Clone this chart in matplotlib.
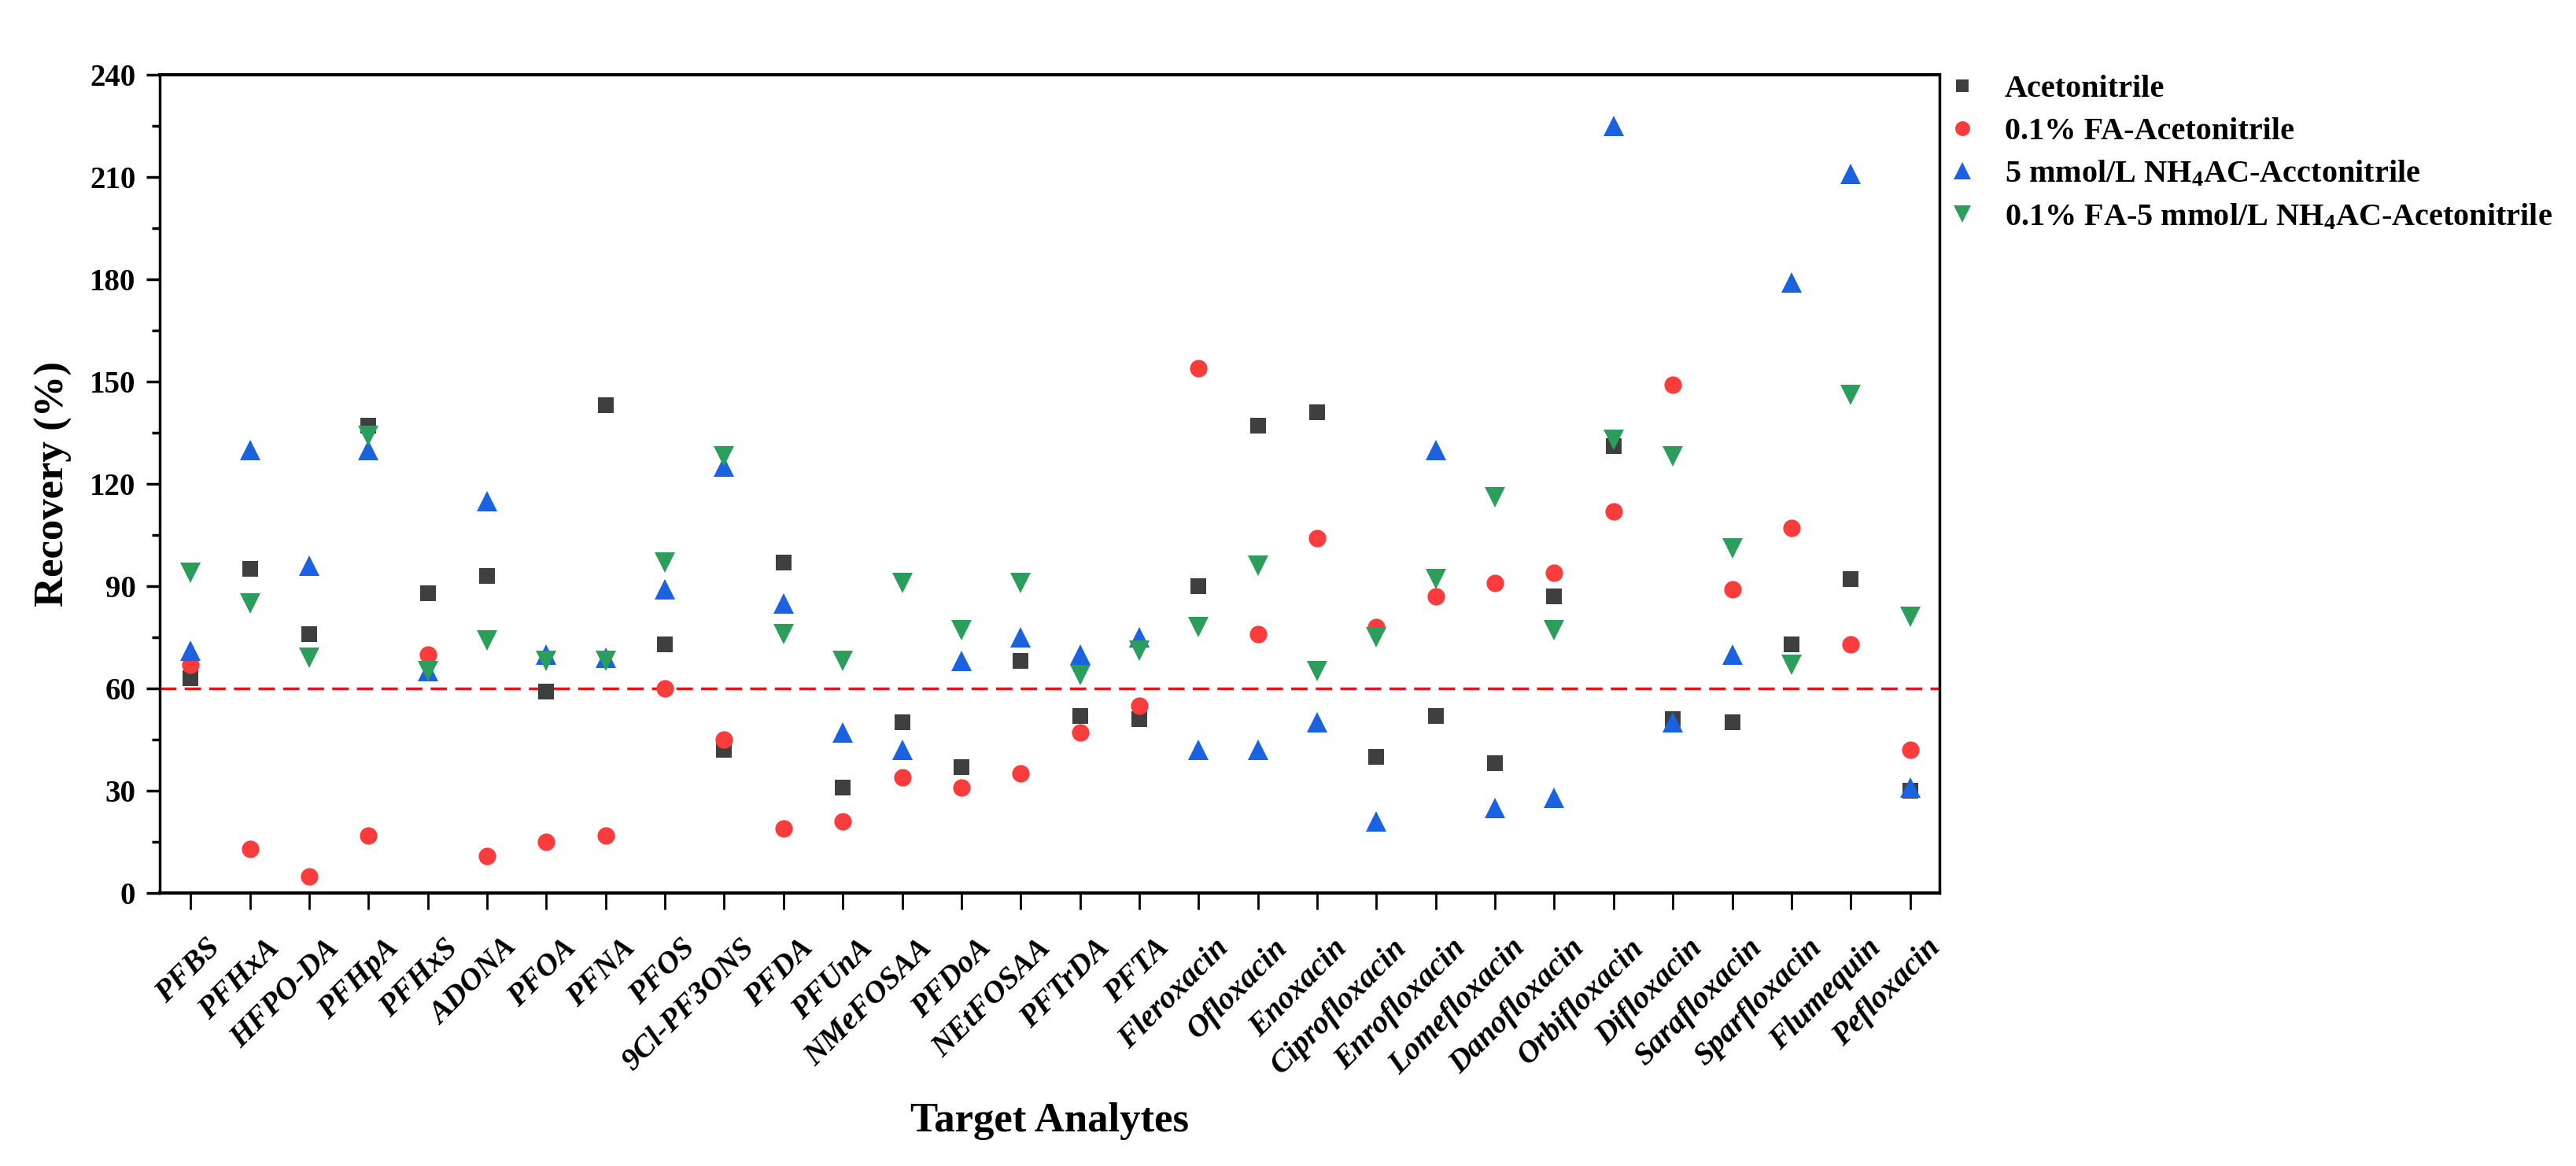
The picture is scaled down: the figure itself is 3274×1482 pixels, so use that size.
import numpy as np
import matplotlib
matplotlib.use("Agg")
import matplotlib.pyplot as plt
from matplotlib.ticker import MultipleLocator
from matplotlib.transforms import ScaledTranslation

plt.rcParams['font.family'] = ['Liberation Serif', 'DejaVu Serif']
plt.rcParams['font.weight'] = 'bold'
plt.rcParams['mathtext.fontset'] = 'custom'
plt.rcParams['mathtext.rm'] = 'Liberation Serif:bold'
plt.rcParams['mathtext.bf'] = 'Liberation Serif:bold'
plt.rcParams['mathtext.it'] = 'Liberation Serif:bold:italic'

# analytes on the x axis
analytes = ['PFBS', 'PFHxA', 'HFPO-DA', 'PFHpA', 'PFHxS', 'ADONA', 'PFOA', 'PFNA',
            'PFOS', '9Cl-PF3ONS', 'PFDA', 'PFUnA', 'NMeFOSAA', 'PFDoA', 'NEtFOSAA',
            'PFTrDA', 'PFTA', 'Fleroxacin', 'Ofloxacin', 'Enoxacin', 'Ciprofloxacin',
            'Enrofloxacin', 'Lomefloxacin', 'Danofloxacin', 'Orbifloxacin', 'Difloxacin',
            'Sarafloxacin', 'Sparfloxacin', 'Flumequin', 'Pefloxacin']

# recoveries (%)
acetonitrile = [63, 95, 76, 137, 88, 93, 59, 143, 73, 42, 97, 31, 50, 37, 68,
                52, 51, 90, 137, 141, 40, 52, 38, 87, 131, 51, 50, 73, 92, 30]
fa_acetonitrile = [67, 13, 5, 17, 70, 11, 15, 17, 60, 45, 19, 21, 34, 31, 35,
                   47, 55, 154, 76, 104, 78, 87, 91, 94, 112, 149, 89, 107, 73, 42]
nh4ac_acetonitrile = [71, 130, 96, 130, 65, 115, 70, 69, 89, 125, 85, 47, 42, 68, 75,
                      70, 75, 42, 42, 50, 21, 130, 25, 28, 225, 50, 70, 179, 211, 31]
fa_nh4ac_acetonitrile = [94, 85, 69, 134, 65, 74, 68, 68, 97, 128, 76, 68, 91, 77, 91,
                         64, 71, 78, 96, 65, 75, 92, 116, 77, 133, 128, 101, 67, 146, 81]

labels = ['Acetonitrile',
          '0.1% FA-Acetonitrile',
          r'5 mmol/L NH$_\mathbf{4}$AC-Acctonitrile',
          r'0.1% FA-5 mmol/L NH$_\mathbf{4}$AC-Acetonitrile']

x = np.arange(1, len(analytes) + 1)

fig = plt.figure(figsize=(32.74, 14.82), dpi=100)
ax = fig.add_axes([0.062, 0.234, 0.691, 0.702])

ax.plot(x, acetonitrile, 's', color='#3f3f3f', ms=14, mew=0, label=labels[0])
ax.plot(x, fa_acetonitrile, 'o', color='#fa3c3c', ms=16, mew=0, label=labels[1])
ax.plot(x, nh4ac_acetonitrile, '^', color='#1a62e0', ms=19, mew=0, label=labels[2])
ax.plot(x, fa_nh4ac_acetonitrile, 'v', color='#2a9e5a', ms=19, mew=0, label=labels[3])

# 60% reference line
ax.axhline(60, color='#e8141c', lw=2.5, dashes=[6, 3], zorder=1)

ax.set_xlim(0.48, 30.5)
ax.set_ylim(0, 240)
ax.yaxis.set_major_locator(MultipleLocator(30))
ax.yaxis.set_minor_locator(MultipleLocator(15))
ax.set_xticks(x)
ax.set_xticklabels([])

# slanted analyte names, placed a little right of and below each tick
shift = ScaledTranslation(14 / 72, -37 / 72, fig.dpi_scale_trans)
for xi, name in zip(x, analytes):
    ax.text(xi, 0, name, transform=ax.get_xaxis_transform() + shift,
            rotation=45, ha='right', va='top', rotation_mode='anchor',
            fontsize=28.5, style='italic', weight='bold', clip_on=False)

for s in ax.spines.values():
    s.set_linewidth(2.5)
ax.spines['top'].set_linewidth(3)
ax.spines['bottom'].set_linewidth(3)

ax.tick_params(axis='y', which='major', direction='out', length=12, width=2.5,
               labelsize=28, pad=10)
ax.tick_params(axis='y', which='minor', direction='out', length=7, width=2.5)
ax.tick_params(axis='x', which='major', direction='out', length=15, width=2)

ax.set_ylabel('Recovery (%)', fontsize=38, weight='bold', labelpad=16)
ax.set_xlabel('Target Analytes', fontsize=38, weight='bold')
ax.xaxis.set_label_coords(0.5, -0.255)

ax.legend(loc='upper left', bbox_to_anchor=(1.0, 1.008), frameon=False,
          fontsize=29, borderaxespad=0, borderpad=0.2, handlelength=1.0,
          handletextpad=0.85, labelspacing=0.42, markerscale=0.85)

fig.savefig('out.png', dpi=100)
